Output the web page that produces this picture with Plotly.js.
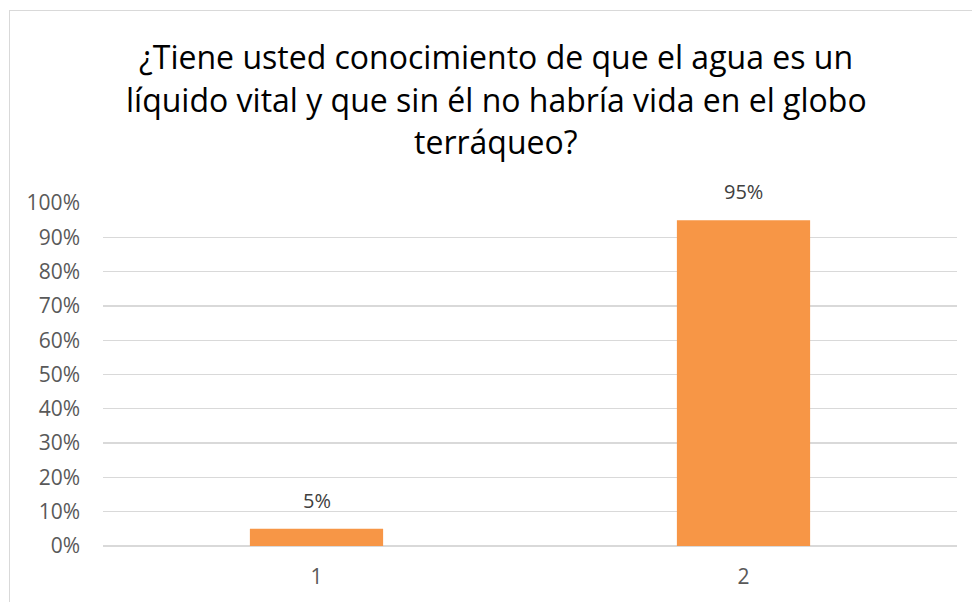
<!DOCTYPE html>
<html>
<head>
<meta charset="utf-8">
<script src="https://cdn.plot.ly/plotly-3.0.1.min.js"></script>
<style>
  html, body { margin: 0; padding: 0; background: #ffffff; }
  #wrap { position: relative; width: 972px; height: 602px; overflow: hidden; }
  #chart { position: absolute; left: 0; top: 0; width: 972px; height: 602px; }
  #frame { position: absolute; left: 9px; top: 10px; width: 1100px; height: 800px;
           border: 1px solid #d9d9d9; pointer-events: none; z-index: 5; }
</style>
</head>
<body>
<div id="wrap">
  <div id="chart"></div>
  <div id="frame"></div>
</div>
<script>
const titleLines = [
  "¿Tiene usted conocimiento de que el agua es un",
  "líquido vital y que sin él no habría vida en el globo",
  "terráqueo?"
];
const categories = ["1", "2"];
const values = [0.05, 0.95];
const valueLabels = ["5%", "95%"];
const yTickValues = [0, 0.1, 0.2, 0.3, 0.4, 0.5, 0.6, 0.7, 0.8, 0.9, 1.0];
const yTickLabels = ["0%", "10%", "20%", "30%", "40%", "50%", "60%", "70%", "80%", "90%", "100%"];

const FONT = "Open Sans, Noto Sans, sans-serif";

const trace = {
  type: "bar",
  x: categories,
  y: values,
  marker: { color: "#F79646" },
  hoverinfo: "skip"
};

const titleY = [1.428, 1.302, 1.178];
const titleAnnotations = titleLines.map((t, i) => ({
  text: t,
  xref: "paper", yref: "paper",
  x: 0.4602, y: titleY[i],
  xanchor: "center", yanchor: "middle",
  showarrow: false,
  font: { family: FONT, size: 32, color: "#000000" }
}));

const labelAnnotations = categories.map((c, i) => ({
  text: valueLabels[i],
  xref: "x", yref: "y",
  x: i, y: values[i],
  xanchor: "center", yanchor: "bottom",
  yshift: 13,
  showarrow: false,
  font: { family: FONT, size: 20, color: "#404040" }
}));

const layout = {
  width: 972, height: 602,
  margin: { l: 103, r: 15, t: 203, b: 56 },
  paper_bgcolor: "rgba(0,0,0,0)",
  plot_bgcolor: "rgba(0,0,0,0)",
  showlegend: false,
  bargap: 0.688,
  font: { family: FONT, size: 20, color: "#595959" },
  xaxis: {
    type: "category",
    range: [-0.5, 1.5],
    showgrid: false,
    zeroline: false,
    showline: false,
    ticks: "",
    ticklabelstandoff: 16,
    tickfont: { family: FONT, size: 21, color: "#595959" }
  },
  yaxis: {
    range: [0, 1],
    tickvals: yTickValues,
    ticktext: yTickLabels,
    showgrid: true,
    gridcolor: "#d9d9d9",
    gridwidth: 1.3,
    zeroline: true,
    zerolinecolor: "#d9d9d9",
    zerolinewidth: 1.3,
    showline: false,
    ticks: "",
    ticklabelstandoff: 22,
    tickfont: { family: FONT, size: 21, color: "#595959" }
  },
  annotations: titleAnnotations.concat(labelAnnotations)
};

Plotly.newPlot("chart", [trace], layout, { staticPlot: true, displayModeBar: false });
</script>
</body>
</html>
